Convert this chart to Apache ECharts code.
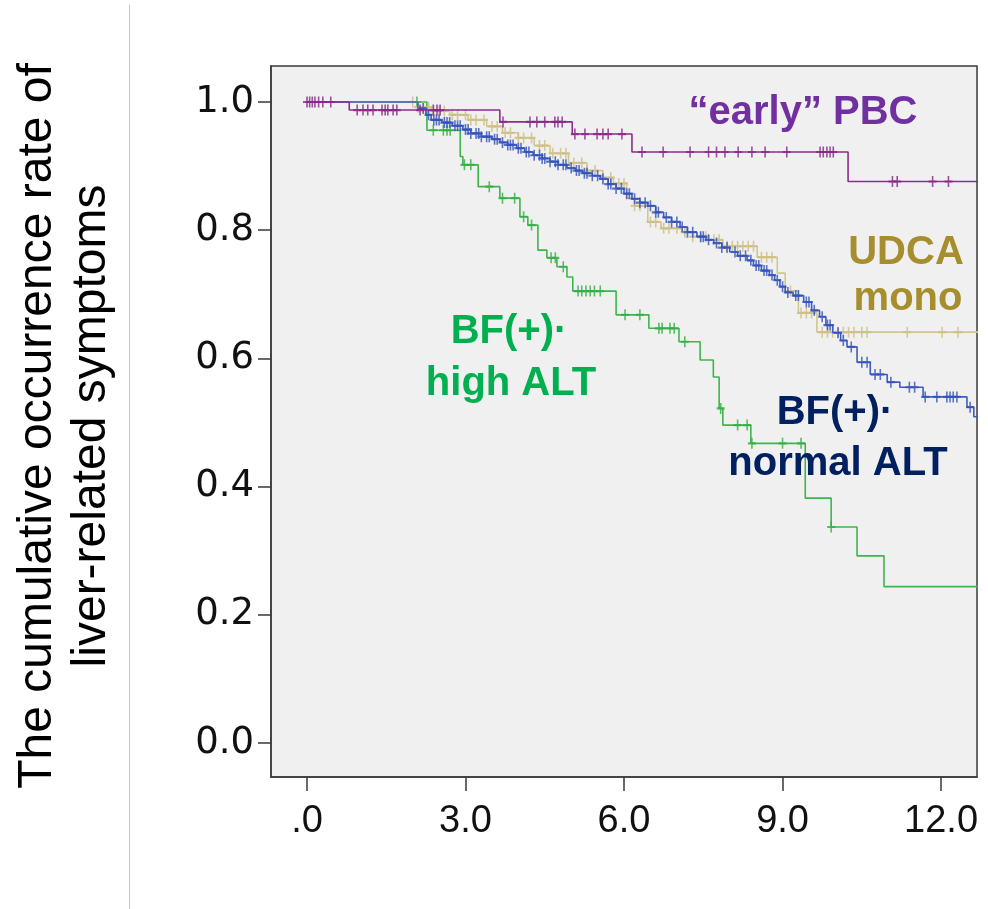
<!DOCTYPE html>
<html>
<head>
<meta charset="utf-8">
<script src="https://cdn.jsdelivr.net/npm/echarts@6/dist/echarts.min.js"></script>
<style>
  html, body { margin: 0; padding: 0; background: #fff; }
  #chart { width: 988px; height: 909px; }
</style>
</head>
<body>
<div id="chart"></div>
<script>
// x ticks / y ticks
var xTicks = [0, 3, 6, 9, 12];
var yTicks = [0, 0.2, 0.4, 0.6, 0.8, 1.0];

// Kaplan-Meier steps: [time, rate]
var earlyPbcSteps = [[0, 1.0], [0.8, 0.9875], [3.65, 0.969], [5.02, 0.95], [6.15, 0.922], [10.24, 0.876], [12.7, 0.876]];
var earlyPbcCensor = [0.0, 0.05, 0.1, 0.15, 0.22, 0.3, 0.45, 0.95, 1.06, 1.15, 1.25, 1.42, 1.48, 1.53, 1.63, 1.7,
  2.14, 2.39, 2.46, 2.52, 3.71, 4.22, 4.35, 4.5, 4.69, 4.75, 4.83, 5.07, 5.26, 5.49, 5.6, 5.7, 5.96,
  6.34, 6.74, 7.25, 7.6, 7.75, 7.91, 8.16, 8.42, 8.67, 9.08, 9.71, 9.77, 9.84, 9.9, 9.96, 11.08, 11.17, 11.84, 12.14];

var udcaSteps = [[0, 1.0], [2.1, 0.992], [2.35, 0.986], [2.7, 0.98], [3.05, 0.972], [3.4, 0.962], [3.7, 0.952],
  [4.0, 0.944], [4.3, 0.932], [4.6, 0.92], [4.95, 0.905], [5.3, 0.893], [5.6, 0.882], [5.8, 0.873], [6.05, 0.85],
  [6.2, 0.838], [6.45, 0.813], [6.7, 0.803], [7.1, 0.797], [7.3, 0.79], [7.6, 0.785], [7.87, 0.775], [8.52, 0.758],
  [8.9, 0.733], [9.05, 0.705], [9.3, 0.671], [9.65, 0.641], [12.7, 0.641]];
var udcaCensor = [2.0, 2.1, 2.2, 2.3, 2.4, 2.5, 2.6, 2.75, 2.85, 3.0, 3.1, 3.2, 3.35, 3.5, 3.6, 3.75, 3.85, 4.0, 4.1,
  4.25, 4.4, 4.5, 4.65, 4.8, 4.9, 5.05, 5.2, 5.3, 5.45, 5.6, 5.75, 5.9, 6.0, 6.2, 6.3, 6.5, 6.6, 6.75, 6.85, 7.0, 7.15,
  7.3, 7.45, 7.55, 7.7, 7.8, 7.95, 8.05, 8.15, 8.25, 8.35, 8.45, 8.6, 8.7, 8.8, 9.15, 9.35, 9.45, 9.55, 9.75, 9.85,
  9.95, 10.05, 10.15, 10.25, 10.35, 10.5, 10.6, 11.36, 12.02, 12.32];

var normalAltSteps = [[0, 1.0], [2.1, 0.99], [2.25, 0.98], [2.35, 0.972], [2.55, 0.968], [2.75, 0.963], [2.95, 0.957],
  [3.1, 0.951], [3.3, 0.946], [3.5, 0.942], [3.65, 0.937], [3.8, 0.933], [3.97, 0.928], [4.12, 0.922], [4.28, 0.917],
  [4.45, 0.912], [4.6, 0.907], [4.75, 0.902], [4.92, 0.897], [5.08, 0.893], [5.22, 0.889], [5.4, 0.885], [5.55, 0.88],
  [5.7, 0.872], [5.85, 0.865], [6.0, 0.857], [6.15, 0.849], [6.3, 0.843], [6.45, 0.838], [6.6, 0.828], [6.75, 0.82],
  [6.9, 0.813], [7.06, 0.805], [7.2, 0.797], [7.38, 0.79], [7.55, 0.785], [7.7, 0.78], [7.85, 0.773], [8.0, 0.766],
  [8.15, 0.76], [8.33, 0.753], [8.45, 0.745], [8.6, 0.737], [8.75, 0.73], [8.85, 0.722], [8.95, 0.712], [9.05, 0.703],
  [9.2, 0.698], [9.4, 0.688], [9.55, 0.675], [9.7, 0.665], [9.82, 0.652], [9.95, 0.64], [10.1, 0.628], [10.22, 0.618],
  [10.41, 0.594], [10.66, 0.575], [10.98, 0.563], [11.22, 0.555], [11.66, 0.54], [12.49, 0.524], [12.62, 0.509], [12.7, 0.509]];
var normalAltCensor = [2.2, 2.3, 2.4, 2.45, 2.5, 2.6, 2.65, 2.7, 2.8, 2.85, 2.9, 3.0, 3.05, 3.1, 3.2, 3.25, 3.3, 3.4,
  3.45, 3.55, 3.6, 3.7, 3.8, 3.85, 3.9, 4.0, 4.05, 4.15, 4.2, 4.3, 4.4, 4.45, 4.5, 4.6, 4.7, 4.75, 4.85, 4.9, 5.0, 5.1,
  5.15, 5.25, 5.3, 5.4, 5.5, 5.6, 5.7, 5.75, 5.85, 5.95, 6.05, 6.1, 6.2, 6.3, 6.4, 6.5, 6.6, 6.65, 6.8, 6.9, 7.0, 7.1,
  7.2, 7.3, 7.45, 7.5, 7.6, 7.75, 7.85, 7.95, 8.1, 8.2, 8.3, 8.4, 8.5, 8.55, 8.65, 8.7, 8.8, 8.9, 9.0, 9.1, 9.25, 9.3,
  9.45, 9.5, 9.6, 9.75, 9.85, 9.9, 10.05, 10.15, 10.3, 10.5, 10.6, 10.75, 10.85, 11.05, 11.4, 11.5, 11.7, 11.92, 12.11,
  12.17, 12.23, 12.3, 12.55];

var highAltSteps = [[0, 1.0], [2.27, 0.956], [2.9, 0.915], [2.95, 0.902], [3.24, 0.868], [3.65, 0.85], [4.03, 0.821],
  [4.18, 0.808], [4.37, 0.769], [4.54, 0.757], [4.73, 0.743], [4.92, 0.727], [5.03, 0.705], [5.85, 0.668], [6.47, 0.647],
  [7.04, 0.626], [7.44, 0.5975], [7.69, 0.571], [7.8, 0.522], [7.87, 0.496], [8.4, 0.4675], [9.43, 0.382], [9.92, 0.337],
  [10.41, 0.292], [10.92, 0.244], [12.7, 0.244]];
var highAltCensor = [2.08, 2.39, 2.58, 2.65, 2.71, 2.98, 3.1, 3.45, 3.7, 3.93, 4.1, 4.25, 4.62, 4.7, 4.85, 5.13, 5.2,
  5.28, 5.36, 5.44, 5.55, 6.02, 6.3, 6.66, 6.72, 6.87, 6.95, 7.15, 7.83, 8.15, 8.33, 8.42, 9.0, 9.35, 9.92];

var plusSymbol = 'path://M0,4H10V6H0Z M4,0H6V10H4Z';

// value of the step curve at time t
function rateAt(steps, t) {
  var v = steps[0][1];
  for (var i = 0; i < steps.length; i++) {
    if (steps[i][0] <= t) v = steps[i][1];
  }
  return v;
}

function kmSeries(steps, censor, color, markColor, z) {
  return [
    {
      type: 'line',
      step: 'end',
      data: steps,
      symbol: 'none',
      lineStyle: { color: color, width: 1.6 },
      z: z,
      animation: false
    },
    {
      type: 'scatter',
      data: censor.map(function (t) { return [t, rateAt(steps, t)]; }),
      symbol: plusSymbol,
      symbolSize: [8, 11],
      itemStyle: { color: markColor },
      z: z,
      animation: false
    }
  ];
}

var chart = echarts.init(document.getElementById('chart'));

var labelFont = { color: '#111', fontFamily: 'Liberation Sans', fontSize: 38 };

chart.setOption({
  backgroundColor: '#fff',
  animation: false,
  grid: {
    left: 271, top: 66, width: 706, height: 711,
    show: true, backgroundColor: '#F0F0F0', borderColor: '#3a3a3a', borderWidth: 1.5
  },
  xAxis: {
    type: 'value',
    min: -0.681,
    max: 12.68,
    splitLine: { show: false },
    axisLine: { show: true, onZero: false, lineStyle: { color: '#3a3a3a', width: 1.5 } },
    axisTick: { show: true, customValues: xTicks, length: 14, lineStyle: { color: '#3a3a3a', width: 1.5 } },
    axisLabel: Object.assign({
      customValues: xTicks,
      margin: 26,
      formatter: function (v) { return v === 0 ? '.0' : v.toFixed(1); }
    }, labelFont)
  },
  yAxis: {
    type: 'value',
    min: -0.053,
    max: 1.0562,
    splitLine: { show: false },
    axisLine: { show: true, onZero: false, lineStyle: { color: '#3a3a3a', width: 1.5 } },
    axisTick: { show: true, customValues: yTicks, length: 13, lineStyle: { color: '#3a3a3a', width: 1.5 } },
    axisLabel: Object.assign({}, labelFont, {
      customValues: yTicks,
      margin: 17,
      fontFamily: 'DejaVu Sans',
      fontSize: 37,
      formatter: function (v) { return v.toFixed(1); }
    })
  },
  series: []
    .concat(kmSeries(highAltSteps, highAltCensor, '#3DB54A', '#35AE45', 3))
    .concat(kmSeries(udcaSteps, udcaCensor, '#D3C58E', '#CDBE85', 4))
    .concat(kmSeries(normalAltSteps, normalAltCensor, '#3D5CBE', '#3452B8', 5))
    .concat(kmSeries(earlyPbcSteps, earlyPbcCensor, '#8C2D8C', '#862886', 6)),
  graphic: [
    { type: 'line', shape: { x1: 129.5, y1: 5, x2: 129.5, y2: 909 }, style: { stroke: '#C8C8C8', lineWidth: 1 } },
    {
      type: 'text', x: 38, y: 426, rotation: Math.PI / 2,
      style: { text: 'The cumulative occurrence rate of', font: '48px "Liberation Sans"', fill: '#000', textAlign: 'center', textVerticalAlign: 'middle' }
    },
    {
      type: 'text', x: 92, y: 426, rotation: Math.PI / 2,
      style: { text: 'liver-related symptoms', font: '48px "Liberation Sans"', fill: '#000', textAlign: 'center', textVerticalAlign: 'middle' }
    },
    { type: 'text', x: 803, y: 113, z: 10, style: { text: '\u201Cearly\u201D PBC', font: 'bold 40px "Liberation Sans"', fill: '#7030A0', textAlign: 'center', textVerticalAlign: 'middle' } },
    { type: 'text', x: 906, y: 253, z: 10, style: { text: 'UDCA', font: 'bold 40px "Liberation Sans"', fill: '#A68E2E', textAlign: 'center', textVerticalAlign: 'middle' } },
    { type: 'text', x: 908, y: 299, z: 10, style: { text: 'mono', font: 'bold 40px "Liberation Sans"', fill: '#A68E2E', textAlign: 'center', textVerticalAlign: 'middle' } },
    { type: 'text', x: 509, y: 332, z: 10, style: { text: 'BF(+)\u00B7', font: 'bold 40px "Liberation Sans"', fill: '#00B050', textAlign: 'center', textVerticalAlign: 'middle' } },
    { type: 'text', x: 511, y: 384, z: 10, style: { text: 'high ALT', font: 'bold 40px "Liberation Sans"', fill: '#00B050', textAlign: 'center', textVerticalAlign: 'middle' } },
    { type: 'text', x: 835, y: 413, z: 10, style: { text: 'BF(+)\u00B7', font: 'bold 40px "Liberation Sans"', fill: '#002060', textAlign: 'center', textVerticalAlign: 'middle' } },
    { type: 'text', x: 838, y: 464, z: 10, style: { text: 'normal ALT', font: 'bold 40px "Liberation Sans"', fill: '#002060', textAlign: 'center', textVerticalAlign: 'middle' } }
  ]
});
</script>
</body>
</html>
